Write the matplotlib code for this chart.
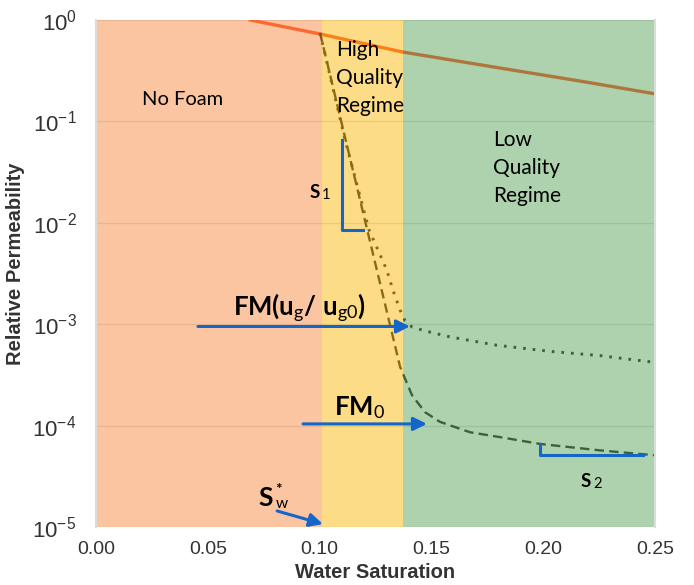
import matplotlib
matplotlib.use('Agg')
import matplotlib.pyplot as plt

plt.rcParams['font.family'] = ['Liberation Sans', 'DejaVu Sans']
plt.rcParams['mathtext.fontset'] = 'custom'
plt.rcParams['mathtext.rm'] = 'Lato'
plt.rcParams['mathtext.bf'] = 'Lato:bold'
plt.rcParams['mathtext.it'] = 'Lato:italic'

# gas relative permeability without foam
sw_gas = [0.069, 0.1002, 0.1373, 0.1807, 0.2165, 0.25]
krg_gas = [1.0, 0.728, 0.483, 0.336, 0.25, 0.187]

# foam model, FM0
sw_fm0 = [0.1002, 0.1136, 0.1270, 0.1360, 0.1413, 0.1471, 0.1538, 0.1673, 0.1807, 0.1986, 0.2254, 0.25]
krg_fm0 = [0.745, 0.0435, 0.00255, 3.8e-4, 2.0e-4, 1.36e-4, 1.09e-4, 8.6e-5, 7.7e-5, 6.6e-5, 5.7e-5, 5.1e-5]

# foam model, FM(ug/ug0)
sw_fmu = [0.1002, 0.1114, 0.1221, 0.1261, 0.1301, 0.1328, 0.1360, 0.1382, 0.1413, 0.1471, 0.1583, 0.1793, 0.2030, 0.2254, 0.25]
krg_fmu = [0.745, 0.0656, 0.0085, 0.0054, 0.0034, 0.00217, 0.00138, 0.00108, 9.4e-4, 8.6e-4, 7.5e-4, 6.2e-4, 5.4e-4, 4.9e-4, 4.2e-4]

regimes = ['No Foam', 'High\nQuality\nRegime', 'Low\nQuality\nRegime']
regime_edges = [0.0, 0.101, 0.1373, 0.25]
regime_colors = ['#FB8D47', '#FDBB11', '#5FA75D']

xticks = [0.0, 0.05, 0.10, 0.15, 0.20, 0.25]
yexp = [0, -1, -2, -3, -4, -5]

blue = '#1467c9'
dark = '#1c1c10'

fig = plt.figure(figsize=(6.94, 5.85), dpi=100)
ax = fig.add_axes([0.1383, 0.0991, 0.8055, 0.8667])
ax.set_yscale('log')
ax.set_xlim(0, 0.25)
ax.set_ylim(1e-5, 1)

# grid and curves sit under the semi transparent regime shading
for e in yexp:
    ax.axhline(10.0 ** e, color='#dcdcdc', lw=1, zorder=0.5)
ax.plot(sw_gas, krg_gas, color='#fa461e', lw=2.4, zorder=1)
ax.plot(sw_fm0, krg_fm0, color=dark, lw=1.7, ls=(0, (4, 2.2)), zorder=1)
ax.plot(sw_fmu, krg_fmu, color=dark, lw=2.1, ls=(0, (0.9, 2.4)), zorder=1)

for i in range(3):
    ax.axvspan(regime_edges[i], regime_edges[i + 1], color=regime_colors[i],
               alpha=0.5, lw=0, zorder=3)

# labels of regimes
ax.text(0.0385, 0.163, regimes[0], family='Lato', fontsize=14.5, ha='center', va='center', zorder=5)
ax.text(0.1073, 0.268, regimes[1], family='Lato', fontsize=15, ha='left', va='center',
        multialignment='left', linespacing=1.5, zorder=5)
ax.text(0.1776, 0.0347, regimes[2], family='Lato', fontsize=15, ha='left', va='center',
        multialignment='left', linespacing=1.5, zorder=5)


def label_sub(x, y, main, sub, size, subsize, dx, dy=-0.8):
    # bold letter followed by a smaller regular index
    ax.text(x, y, main, family='Lato', fontweight='bold', fontsize=size,
            ha='left', va='baseline', zorder=6)
    ax.annotate(sub, xy=(x, y), xytext=(dx, dy), textcoords='offset points', family='Lato',
                fontsize=subsize, ha='left', va='baseline', zorder=6)


# slope brackets
ax.plot([0.110, 0.110, 0.1194], [0.0656, 0.0085, 0.0085], color=blue, lw=2.2, zorder=5)
ax.plot([0.1986, 0.1986, 0.2446], [6.6e-5, 5.1e-5, 5.1e-5], color=blue, lw=2.2, zorder=5)
label_sub(0.0953, 0.01757, 'S', '1', 13.5, 10.5, 9.3)
label_sub(0.2165, 2.48e-5, 'S', '2', 13.5, 10.5, 9.3)

# arrows
arr = dict(arrowstyle='-|>', color=blue, lw=2.2, mutation_scale=20, shrinkA=0, shrinkB=0)
ax.annotate('', xy=(0.1404, 9.5e-4), xytext=(0.0456, 9.5e-4), arrowprops=arr, zorder=6)
ax.annotate('', xy=(0.148, 1.04e-4), xytext=(0.0926, 1.04e-4), arrowprops=arr, zorder=6)
ax.annotate('', xy=(0.1015, 1.07e-5), xytext=(0.081, 1.44e-5), arrowprops=arr, zorder=6)
ax.text(0.0912, 1.44e-3, r'$\mathbf{FM(u}_{\mathrm{g}}\mathbf{/\ u}_{\mathrm{g0}}\mathbf{)}$',
        fontsize=18.5, ha='center', va='center', zorder=6)
ax.text(0.118, 1.52e-4, r'$\mathbf{FM}_{\mathrm{0}}$', fontsize=18.5, ha='center', va='center', zorder=6)
label_sub(0.0725, 1.62e-5, 'S', r'${}_{\mathrm{w}}^{\mathbf{*}}$', 19, 16, 12.5, dy=1.5)

ax.set_xticks(xticks)
ax.set_xticklabels(['%.2f' % t for t in xticks])
ax.set_yticks([10.0 ** e for e in yexp])
ax.set_yticklabels([r'$\mathregular{10^{%d}}$' % e for e in yexp])
ax.minorticks_off()
ax.tick_params(axis='both', length=0, labelsize=14, labelcolor='#333333')
ax.tick_params(axis='y', pad=14, labelsize=16)
ax.tick_params(axis='x', pad=10)

ax.set_xlabel('Water Saturation', fontsize=14.5, fontweight='bold', color='#333333', labelpad=4)
ax.set_ylabel('Relative Permeability', fontsize=14.5, fontweight='bold', color='#333333')
ax.yaxis.set_label_coords(-0.127, 0.519)

for s in ['top', 'bottom']:
    ax.spines[s].set_visible(False)
for s in ['left', 'right']:
    ax.spines[s].set_color('#dcdcdc')
    ax.spines[s].set_linewidth(1.5)
    ax.spines[s].set_zorder(4)

fig.savefig('out.png', dpi=100)
